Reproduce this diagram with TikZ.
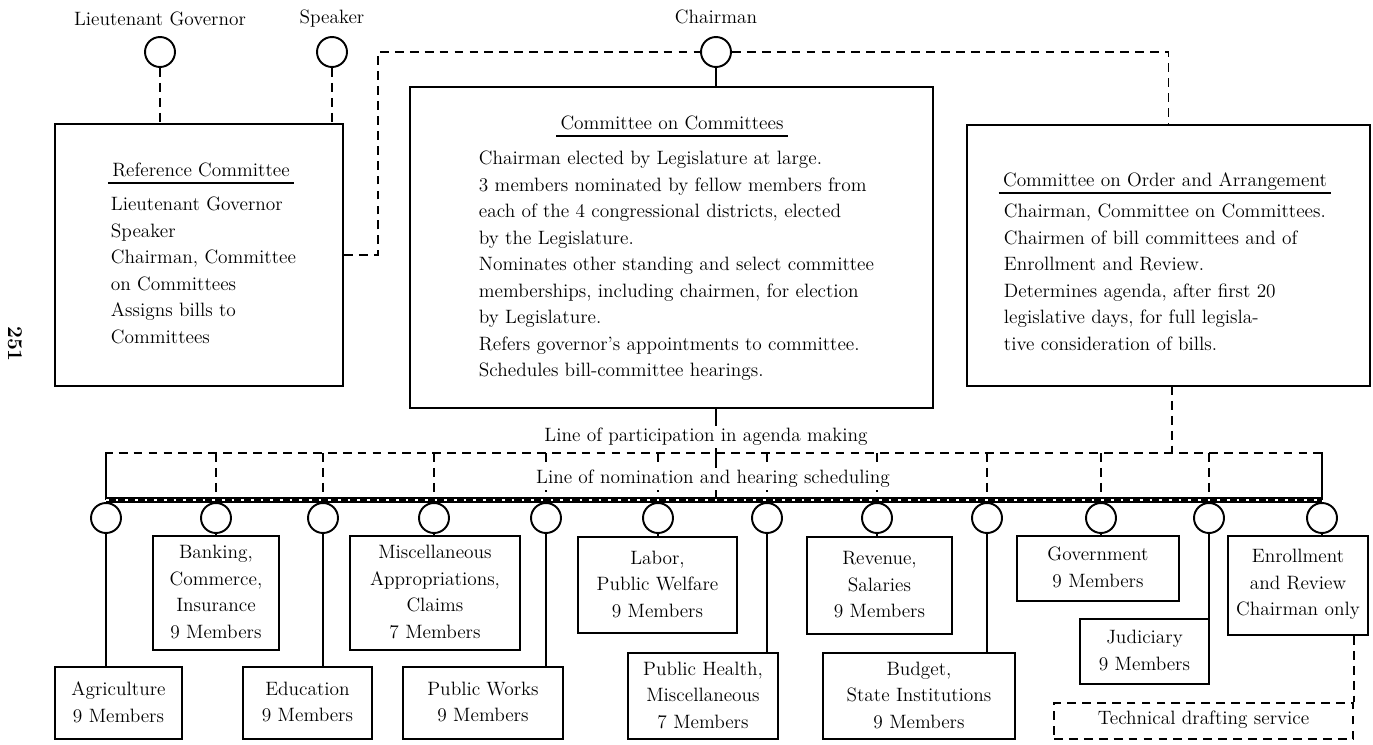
\documentclass[tikz,border=0pt]{standalone}
\usetikzlibrary{positioning,fit}
\begin{document}
\begin{tikzpicture}[x=0.02cm, y=-0.02cm, line width=1.1pt,
    font=\fontsize{11pt}{15.1pt}\selectfont,
    box/.style={draw, inner sep=0pt},
    boxtext/.style={align=center, inner sep=0pt, yshift=0.5pt},
    seat/.style={draw, circle, minimum size=0.6cm, inner sep=0pt},
    dline/.style={dash pattern=on 5pt off 3.5pt},
    heading/.style={anchor=south, inner xsep=2pt, inner ysep=3.4pt, text depth=0pt},
    notes/.style={anchor=north west, inner sep=0pt, align=left},
    nomline/.style={line width=3.8pt, postaction={draw=white, line width=0.8pt, dash pattern=on 1.5pt off 4pt}}]
  \useasboundingbox (0,0) rectangle (1373,744);

  % presiding officers
  \node (lgname) at (160,19) {Lieutenant Governor};
  \node (spname) at (332,19) {Speaker};
  \node (chname) at (716,17) {Chairman};
  \node[seat] (lg) at (160,52) {};
  \node[seat] (sp) at (332,52) {};
  \node[seat] (chair) at (716,52) {};

  % upper committees
  \node[box, fit={(55,124) (343,386)}] (ref) {};
  \node[heading] (reft) at (201,183) {Reference Committee};
  \draw (reft.south west) -- (reft.south east);
  \node[notes] (refn) at (110,196) {Lieutenant Governor\\Speaker\\Chairman, Committee\\on Committees\\Assigns bills to\\Committees};

  \node[box, fit={(410,87) (933,408)}] (coc) {};
  \node[heading] (coct) at (672,136) {Committee on Committees};
  \draw (coct.south west) -- (coct.south east);
  \node[notes] (cocn) at (478,150) {Chairman elected by Legislature at large.\\
    3 members nominated by fellow members from\\
    each of the 4 congressional districts, elected\\
    by the Legislature.\\
    Nominates other standing and select committee\\
    memberships, including chairmen, for election\\
    by Legislature.\\
    Refers governor's appointments to committee.\\
    Schedules bill-committee hearings.};

  \node[box, fit={(967,125) (1370,386)}] (order) {};
  \node[heading] (ordert) at (1165,193) {Committee on Order and Arrangement};
  \draw (ordert.south west) -- (ordert.south east);
  \node[notes] (ordern) at (1003,203) {Chairman, Committee on Committees.\\
    Chairmen of bill committees and of\\
    Enrollment and Review.\\
    Determines agenda, after first 20\\
    legislative days, for full legisla-\\
    tive consideration of bills.};

  \draw[dline] (lg) -- (lg |- ref.north);
  \draw[dline] (sp) -- (sp |- ref.north);
  \draw (chair) -- (chair |- coc.north);
  \draw[dline] (ref.east) -- ++(34,0) |- (chair.west);
  \draw[dline] (chair.east) -| (order.north);

  % bill committees
  \node[box, fit={(55,667) (182,739)}] (agr) {};
  \node[boxtext] at (agr) {Agriculture\\9 Members};
  \node[box, fit={(153,536) (279,650)}] (bank) {};
  \node[boxtext] at (bank) {Banking,\\Commerce,\\Insurance\\9 Members};
  \node[box, fit={(243,667) (372,739)}] (edu) {};
  \node[boxtext] at (edu) {Education\\9 Members};
  \node[box, fit={(350,536) (520,650)}] (misc) {};
  \node[boxtext] at (misc) {Miscellaneous\\Appropriations,\\Claims\\7 Members};
  \node[box, fit={(403,667) (563,739)}] (works) {};
  \node[boxtext] at (works) {Public Works\\9 Members};
  \node[box, fit={(578,537) (737,633)}] (labor) {};
  \node[boxtext] at (labor) {Labor,\\Public Welfare\\9 Members};
  \node[box, fit={(628,653) (778,739)}] (health) {};
  \node[boxtext] at (health) {Public Health,\\Miscellaneous\\7 Members};
  \node[box, fit={(807,537) (952,634)}] (rev) {};
  \node[boxtext] at (rev) {Revenue,\\Salaries\\9 Members};
  \node[box, fit={(823,653) (1015,739)}] (budget) {};
  \node[boxtext] at (budget) {Budget,\\State Institutions\\9 Members};
  \node[box, fit={(1017,536) (1179,601)}] (gov) {};
  \node[boxtext] at (gov) {Government\\9 Members};
  \node[box, fit={(1080,619) (1209,684)}] (jud) {};
  \node[boxtext] at (jud) {Judiciary\\9 Members};
  \node[box, fit={(1228,536) (1368,635)}] (enr) {};
  \node[boxtext] at (enr) {Enrollment\\and Review\\Chairman only};
  \node[box, dline, fit={(1054,703) (1353,739)}] (tech) {};
  \node[boxtext] at (tech) {Technical drafting service};
  \draw[dline] (enr.south -| tech.east) -- (tech.north east);

  % participation and nomination lines
  \coordinate (pl) at (106,453);
  \coordinate (pr) at (1322,453);
  \coordinate (nl) at (106,500);
  \coordinate (nr) at (1322,500);
  \coordinate (odrop) at (1172,386);
  \draw[dline] (nl) |- (pr) -- (nr);
  \draw[dline] (odrop) -- (odrop |- pl);
  \draw (chair |- coc.south) -- (chair |- nl);
  \foreach \x/\c in {106/agr,216/bank,323/edu,434/misc,546/works,658/labor,
      767/health,877/rev,987/budget,1101/gov,1209/jud,1322/enr}{
    \node[seat] (s\c) at (\x,518) {};
    \draw[dline] (s\c |- pl) -- (s\c |- nl);
    \draw (s\c) -- (s\c |- \c.north);
  }
  \draw[nomline] (nl) -- (nr);

  \node[fill=white, inner sep=1pt] (partlabel) at (706,437) {Line of participation in agenda making};
  \node[fill=white, inner sep=1pt] (nomlabel) at (713,479) {Line of nomination and hearing scheduling};

  \node[rotate=-90, font=\fontsize{12pt}{12pt}\selectfont\bfseries] (page) at (15,344) {251};
\end{tikzpicture}
\end{document}
